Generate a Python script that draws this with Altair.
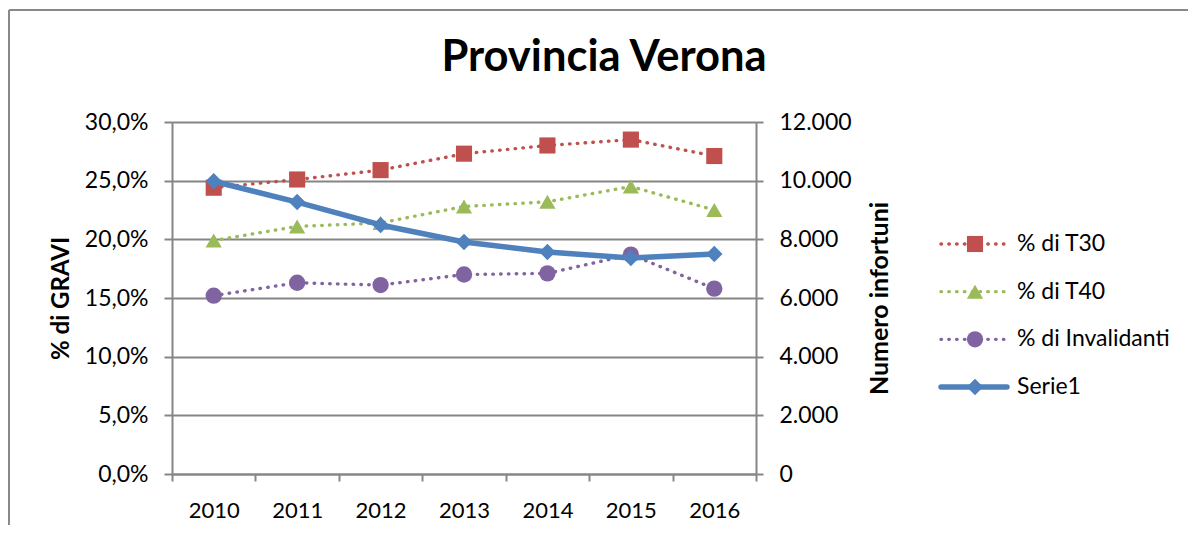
import altair as alt
import pandas as pd

years = ["2010", "2011", "2012", "2013", "2014", "2015", "2016"]
t30 = [24.4, 25.1, 25.9, 27.3, 28.0, 28.5, 27.1]
t40 = [19.9, 21.1, 21.4, 22.8, 23.2, 24.5, 22.5]
inval = [15.2, 16.3, 16.1, 17.0, 17.1, 18.7, 15.8]
serie1 = [9980, 9270, 8490, 7910, 7570, 7360, 7500]

pct_names = ["% di T30", "% di T40", "% di Invalidanti"]
all_names = pct_names + ["Serie1"]
colors = ["#C0504D", "#9BBB59", "#8064A2", "#4F81BD"]
shapes = ["square", "triangle-up", "circle", "diamond"]
sizes = [260, 270, 410, 320]
title_text = "Provincia Verona"

pct_df = pd.DataFrame({
    "year": years * 3,
    "series": [n for n in pct_names for _ in years],
    "value": t30 + t40 + inval,
})
cnt_df = pd.DataFrame({"year": years, "series": "Serie1", "value": serie1})
legend_df = pd.DataFrame({"series": all_names, "idx": [0, 1, 2, 3]})

W, H = 584, 352
FONT = "Lato"
GRID = "#868686"

color_enc = alt.Color("series:N", scale=alt.Scale(domain=all_names, range=colors), legend=None)
shape_enc = alt.Shape("series:N", scale=alt.Scale(domain=all_names, range=shapes), legend=None)
size_enc = alt.Size("series:N", scale=alt.Scale(domain=all_names, range=sizes), legend=None)

x_axis = alt.Axis(title=None, tickBand="extent", labelAngle=0, labelFontSize=22,
                  labelPadding=19, tickSize=7, domainColor=GRID, tickColor=GRID,
                  domainWidth=2, tickWidth=2, labelColor="black")
x_enc = alt.X(
    "year:N",
    scale=alt.Scale(type="band", paddingInner=0, paddingOuter=0),
    bandPosition=0.5,
    axis=x_axis,
    title=None,
)

pct_scale = alt.Scale(domain=[0, 30], nice=False, zero=True)
pct_axis = alt.Axis(
    values=[0, 5, 10, 15, 20, 25, 30],
    labelExpr="replace(format(datum.value, '.1f'), '.', ',') + '%'",
    title="% di GRAVI", titleFontSize=24, titleFontWeight="bold", titleAngle=270,
    titleX=-111, titleY=H / 2, titleAlign="center", titleBaseline="middle",
    grid=True, gridColor=GRID, gridWidth=2, domainColor=GRID, domainWidth=2,
    tickColor=GRID, tickWidth=2, tickSize=8, labelPadding=16, labelFontSize=23,
    labelColor="black", titleColor="black",
)
cnt_scale = alt.Scale(domain=[0, 12000], nice=False, zero=True)
cnt_axis = alt.Axis(
    orient="right", values=[0, 2000, 4000, 6000, 8000, 10000, 12000],
    labelExpr="replace(format(datum.value, ','), ',', '.')",
    title="Numero infortuni", titleFontSize=25, titleFontWeight="bold", titleAngle=270,
    titleX=123, titleY=H / 2, titleAlign="center", titleBaseline="middle",
    grid=False, domainColor=GRID, domainWidth=2, tickColor=GRID, tickWidth=2,
    tickSize=7, labelPadding=16, labelFontSize=23, labelColor="black", titleColor="black",
)

DOT = [0.5, 7.3]

pct_lines = alt.Chart(pct_df).mark_line(strokeWidth=3.4, strokeCap="round", strokeDash=DOT).encode(
    x=x_enc, y=alt.Y("value:Q", scale=pct_scale, axis=pct_axis, title="% di GRAVI"),
    color=color_enc, detail="series:N",
)
pct_points = alt.Chart(pct_df).mark_point(filled=True, opacity=1).encode(
    x=x_enc, y=alt.Y("value:Q", scale=pct_scale, axis=None),
    color=color_enc, shape=shape_enc, size=size_enc,
)
cnt_line = alt.Chart(cnt_df).mark_line(strokeWidth=5.5, strokeJoin="round", strokeCap="round").encode(
    x=x_enc, y=alt.Y("value:Q", scale=cnt_scale, axis=cnt_axis, title="Numero infortuni"),
    color=color_enc,
)
cnt_points = alt.Chart(cnt_df).mark_point(filled=True, opacity=1).encode(
    x=x_enc, y=alt.Y("value:Q", scale=cnt_scale, axis=None),
    color=color_enc, shape=shape_enc, size=size_enc,
)

leg_y = alt.Y("idx:Q", scale=alt.Scale(domain=[0, 3], range=[122, 265]), axis=None)
leg_dotted = alt.Chart(legend_df).transform_filter("datum.idx < 3").mark_rule(
    strokeWidth=3.4, strokeCap="round", strokeDash=DOT).encode(
    x=alt.value(769), x2=alt.value(835), y=leg_y, color=color_enc)
leg_solid = alt.Chart(legend_df).transform_filter("datum.idx == 3").mark_rule(
    strokeWidth=5.5, strokeCap="round").encode(
    x=alt.value(769), x2=alt.value(835), y=leg_y, color=color_enc)
leg_pts = alt.Chart(legend_df).mark_point(filled=True, opacity=1).encode(
    x=alt.value(803), y=leg_y, color=color_enc, shape=shape_enc, size=size_enc)
leg_txt = alt.Chart(legend_df).mark_text(align="left", baseline="middle", fontSize=23,
                                          font=FONT, color="black").encode(
    x=alt.value(845), y=leg_y, text="series:N")

title_layer = alt.Chart(pd.DataFrame({"t": [title_text]})).mark_text(
    align="center", baseline="alphabetic", fontSize=43.5, fontWeight="bold", font=FONT,
    color="black").encode(x=alt.value(432), y=alt.value(-51), text="t:N")

frame_df = pd.DataFrame({"k": [0]})
border_top = alt.Chart(frame_df).mark_rule(color="#898989", strokeWidth=2).encode(
    x=alt.value(-163), x2=alt.value(1020), y=alt.value(-112))
border_left = alt.Chart(frame_df).mark_rule(color="#898989", strokeWidth=2).encode(
    x=alt.value(-163), y=alt.value(-112), y2=alt.value(420))

chart = alt.layer(
    border_top, border_left, title_layer,
    pct_lines, pct_points, cnt_line, cnt_points,
    leg_dotted, leg_solid, leg_pts, leg_txt,
).resolve_scale(y="independent").properties(
    width=W, height=H,
    autosize=alt.AutoSizeParams(type="none"),
    padding={"left": 164, "top": 114, "right": 432, "bottom": 51},
).configure(font=FONT).configure_view(stroke=None)

chart.save("out.html", embed_options={"renderer": "svg", "actions": False})
